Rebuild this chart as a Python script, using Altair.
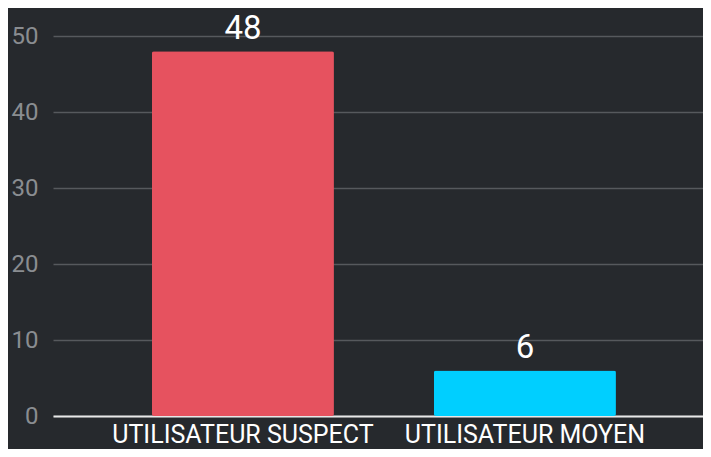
import altair as alt
import pandas as pd

categories = ["UTILISATEUR SUSPECT", "UTILISATEUR MOYEN"]
values = [48, 6]
colors = ["#e6525f", "#00cfff"]
y_ticks = [0, 10, 20, 30, 40, 50]

df = pd.DataFrame({"cat": categories, "val": values, "color": colors})

x = alt.X("cat:N", sort=categories, title=None,
          scale=alt.Scale(paddingInner=0.3546, paddingOuter=0.3298, align=0.532),
          axis=alt.Axis(labelAngle=0, labelFont="Roboto", labelFontSize=25,
                        labelColor="#ffffff", labelPadding=6, ticks=False,
                        labelLimit=0,
                        domain=True, domainColor="#e8e8e8", domainWidth=2,
                        grid=False))
y = alt.Y("val:Q", title=None,
          scale=alt.Scale(domain=[0, 50], nice=False),
          axis=alt.Axis(values=y_ticks, labelFont="Roboto", labelFontSize=24,
                        labelColor="#8a8d91", labelPadding=15, ticks=False,
                        domain=False, grid=True, gridColor="#56595d",
                        gridWidth=1.5))

bars = alt.Chart(df).mark_bar(cornerRadius=2).encode(
    x=x, y=y, color=alt.Color("color:N", scale=None)
)
text = alt.Chart(df).mark_text(font="Roboto", fontSize=33, color="#ffffff",
                               baseline="alphabetic", dy=-12).encode(
    x=alt.X("cat:N", sort=categories),
    y=alt.Y("val:Q"),
    text=alt.Text("val:Q"),
)

chart = (bars + text).properties(
    width=650, height=380, background="#26292d",
    padding={"left": 45, "top": 28, "right": 0, "bottom": 33},
    autosize=alt.AutoSizeParams(type="none"),
).configure_view(stroke=None)

chart.save("out.html", embed_options={"renderer": "svg", "actions": False})
